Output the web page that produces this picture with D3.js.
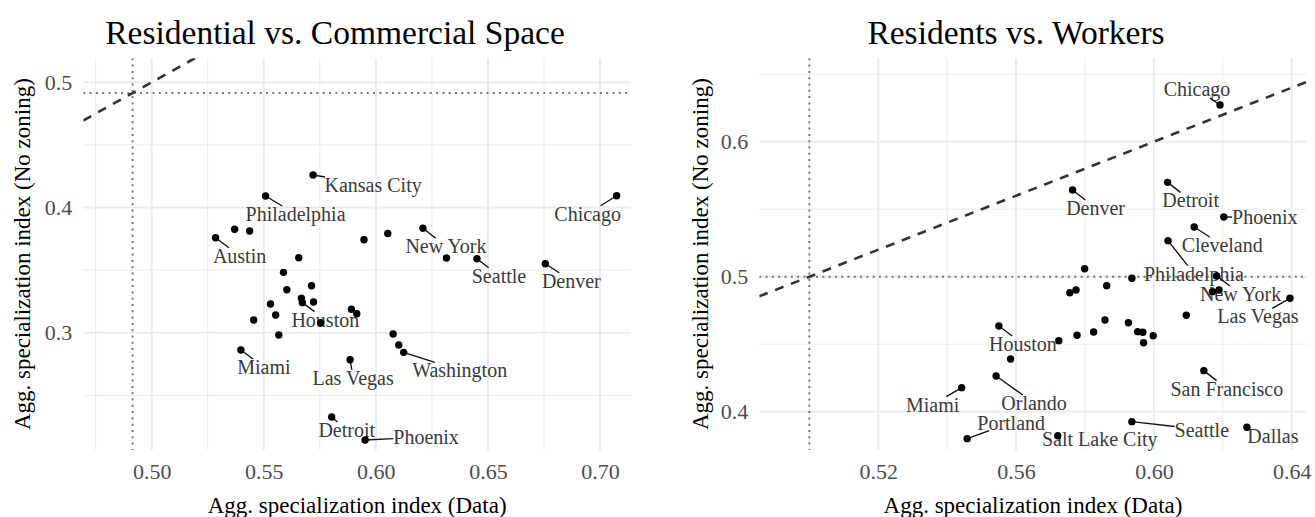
<!DOCTYPE html>
<html>
<head>
<meta charset="utf-8">
<script src="https://cdn.jsdelivr.net/npm/d3@7"></script>
<style>
  html, body { margin: 0; padding: 0; background: #ffffff; }
  svg { display: block; }
  text { font-family: "Liberation Serif", "DejaVu Serif", serif; }
</style>
</head>
<body>
<svg id="chart" width="1315" height="517"></svg>
<script>
// ---------------- DATA ----------------
// Left panel: Residential vs. Commercial Space
const leftCities = ["Kansas City","Philadelphia","","","Austin","","","","","","","","Houston","","","","","","","","","Miami","Las Vegas","Detroit","Phoenix","Chicago","New York","","Seattle","Denver","","","Washington"];
const leftX = [0.5720,0.5508,0.5370,0.5437,0.5285,0.5947,0.6053,0.5656,0.5588,0.5713,0.5603,0.5668,0.5672,0.5722,0.5530,0.5553,0.5455,0.5754,0.5891,0.5915,0.5567,0.5398,0.5885,0.5803,0.5952,0.7074,0.6210,0.6315,0.6451,0.6756,0.6077,0.6102,0.6124];
const leftY = [0.4260,0.4092,0.3826,0.3812,0.3759,0.3743,0.3792,0.3599,0.3482,0.3375,0.3343,0.3275,0.3240,0.3245,0.3229,0.3141,0.3101,0.3080,0.3187,0.3152,0.2982,0.2862,0.2784,0.2327,0.2143,0.4094,0.3834,0.3597,0.3591,0.3551,0.2990,0.2902,0.2843];
const leftBaseline = 0.4915;
const leftXTicks = [0.50,0.55,0.60,0.65,0.70];
const leftXMinor = [0.475,0.525,0.575,0.625,0.675];
const leftYTicks = [0.3,0.4,0.5];
const leftYMinor = [0.25,0.35,0.45];

// Right panel: Residents vs. Workers
const rightCities = ["Houston","","Orlando","Miami","Portland","Chicago","Denver","Detroit","Phoenix","Cleveland","Philadelphia","New York","","","","","","","","Las Vegas","","","","","","","","","","","San Francisco","Seattle","Salt Lake City","Dallas"];
const rightX = [0.5550,0.5584,0.5542,0.5442,0.5458,0.6192,0.5764,0.6040,0.6203,0.6117,0.6041,0.6182,0.5799,0.5936,0.5863,0.5756,0.5774,0.6170,0.6189,0.6395,0.6094,0.5858,0.5926,0.5953,0.5968,0.5998,0.5970,0.5825,0.5777,0.5724,0.6145,0.5936,0.5721,0.6270];
const rightY = [0.4635,0.4390,0.4264,0.4178,0.3800,0.6272,0.5642,0.5699,0.5442,0.5368,0.5267,0.5005,0.5059,0.4988,0.4933,0.4881,0.4901,0.4889,0.4901,0.4840,0.4714,0.4679,0.4659,0.4593,0.4588,0.4563,0.4511,0.4590,0.4566,0.4526,0.4304,0.3926,0.3822,0.3884];
const rightBaseline = 0.5;
const rightXTicks = [0.52,0.56,0.60,0.64];
const rightXMinor = [0.50,0.54,0.58,0.62];
const rightYTicks = [0.4,0.5,0.6];
const rightYMinor = [0.45,0.55,0.65];

const panelTitles = ["Residential vs. Commercial Space", "Residents vs. Workers"];
const xAxisTitle = "Agg. specialization index (Data)";
const yAxisTitle = "Agg. specialization index (No zoning)";

// ---------------- LAYOUT (label placement, px offsets of label centre from point) ----------------
const leftLabelOffset = {
  "Kansas City":[60,10], "Philadelphia":[30,18], "Austin":[24,18], "Houston":[23,17],
  "Miami":[23,17], "Las Vegas":[3,18], "Detroit":[15,13], "Phoenix":[61,-3],
  "Chicago":[-29,18], "New York":[23,18], "Seattle":[22,17], "Denver":[26,17], "Washington":[56,18]
};
const rightLabelOffset = {
  "Chicago":[-23,-16], "Denver":[23,18], "Detroit":[23,18], "Phoenix":[41,0],
  "Cleveland":[28,18], "Philadelphia":[26,33], "New York":[24,18], "Las Vegas":[-32,18],
  "San Francisco":[23,18], "Seattle":[70,8], "Salt Lake City":[42,3], "Dallas":[26,9],
  "Houston":[24,18], "Orlando":[38,27], "Miami":[-29,17], "Portland":[44,-16]
};

const panels = [
  { title: panelTitles[0], cities: leftCities, xs: leftX, ys: leftY, base: leftBaseline,
    xDomain: [0.4695, 0.7138], yDomain: [0.2063, 0.5192], xRange: [83.3, 631], yRange: [450, 58.3],
    xTicks: leftXTicks, xMinor: leftXMinor, yTicks: leftYTicks, yMinor: leftYMinor,
    xFmt: d3.format(".2f"), yFmt: d3.format(".1f"), offsets: leftLabelOffset, yTitleX: 22, titleX: 335 },
  { title: panelTitles[1], cities: rightCities, xs: rightX, ys: rightY, base: rightBaseline,
    xDomain: [0.48546, 0.64436], yDomain: [0.3716, 0.6618], xRange: [759.3, 1306.7], yRange: [450, 58.3],
    xTicks: rightXTicks, xMinor: rightXMinor, yTicks: rightYTicks, yMinor: rightYMinor,
    xFmt: d3.format(".2f"), yFmt: d3.format(".1f"), offsets: rightLabelOffset, yTitleX: 700, titleX: 1016 }
];

const svg = d3.select("#chart");
svg.append("rect").attr("width", 1315).attr("height", 517).attr("fill", "#ffffff");

panels.forEach((p, pi) => {
  const x = d3.scaleLinear().domain(p.xDomain).range(p.xRange);
  const y = d3.scaleLinear().domain(p.yDomain).range(p.yRange);
  const [x0, x1] = p.xRange;
  const [y1, y0] = p.yRange; // y0 top, y1 bottom
  const g = svg.append("g");
  const clipId = "clip" + pi;
  svg.append("clipPath").attr("id", clipId).append("rect")
    .attr("x", x0).attr("y", y0).attr("width", x1 - x0).attr("height", y1 - y0);

  // minor grid
  g.selectAll(".gxm").data(p.xMinor).enter().append("line")
    .attr("x1", d => x(d)).attr("x2", d => x(d)).attr("y1", y0).attr("y2", y1)
    .attr("stroke", "#ebebeb").attr("stroke-width", 1);
  g.selectAll(".gym").data(p.yMinor).enter().append("line")
    .attr("y1", d => y(d)).attr("y2", d => y(d)).attr("x1", x0).attr("x2", x1)
    .attr("stroke", "#ebebeb").attr("stroke-width", 1);
  // major grid
  g.selectAll(".gx").data(p.xTicks).enter().append("line")
    .attr("x1", d => x(d)).attr("x2", d => x(d)).attr("y1", y0).attr("y2", y1)
    .attr("stroke", "#ebebeb").attr("stroke-width", 2);
  g.selectAll(".gy").data(p.yTicks).enter().append("line")
    .attr("y1", d => y(d)).attr("y2", d => y(d)).attr("x1", x0).attr("x2", x1)
    .attr("stroke", "#ebebeb").attr("stroke-width", 2);

  // axes
  const xAxis = d3.axisBottom(x).tickValues(p.xTicks).tickFormat(p.xFmt).tickSize(0).tickPadding(13);
  const gx = g.append("g").attr("transform", `translate(0,${y1})`).call(xAxis);
  gx.select(".domain").remove();
  gx.selectAll("text").attr("font-family", "Liberation Serif").attr("font-size", 22).attr("fill", "#4d4d4d");

  const yAxis = d3.axisLeft(y).tickValues(p.yTicks).tickFormat(p.yFmt).tickSize(0).tickPadding(11);
  const gy = g.append("g").attr("transform", `translate(${x0},0)`).call(yAxis);
  gy.select(".domain").remove();
  gy.selectAll("text").attr("font-family", "Liberation Serif").attr("font-size", 22).attr("fill", "#4d4d4d");

  // reference lines
  const ref = g.append("g").attr("clip-path", `url(#${clipId})`);
  ref.append("line").attr("x1", x(p.base)).attr("x2", x(p.base)).attr("y1", y0).attr("y2", y1)
    .attr("stroke", "#777").attr("stroke-width", 2).attr("stroke-dasharray", "2,4.3");
  ref.append("line").attr("y1", y(p.base)).attr("y2", y(p.base)).attr("x1", x0).attr("x2", x1)
    .attr("stroke", "#777").attr("stroke-width", 2).attr("stroke-dasharray", "2,4.3");
  const d0 = p.xDomain[0], d1 = p.xDomain[1];
  ref.append("line").attr("x1", x(d0)).attr("y1", y(d0)).attr("x2", x(d1)).attr("y2", y(d1))
    .attr("stroke", "#333").attr("stroke-width", 2.6).attr("stroke-dasharray", "9,8");

  // points
  const pts = p.xs.map((v, i) => ({ x: v, y: p.ys[i], city: p.cities[i] }));
  const labG = g.append("g");
  const segG = g.append("g");
  g.append("g").selectAll("circle").data(pts).enter().append("circle")
    .attr("cx", d => x(d.x)).attr("cy", d => y(d.y)).attr("r", 3.7).attr("fill", "#000");

  // labels with leader segments pointing at the label centre, clipped to the label box
  pts.filter(d => d.city && p.offsets[d.city]).forEach(d => {
    const px = x(d.x), py = y(d.y);
    const [dx, dy] = p.offsets[d.city];
    const t = labG.append("text").attr("x", px + dx).attr("y", py + dy)
      .attr("text-anchor", "middle").attr("dominant-baseline", "central")
      .attr("font-size", 20).attr("fill", "#3a3a3a").text(d.city);
    const bb = t.node().getBBox();
    const bx0 = bb.x, bx1 = bb.x + bb.width, by0 = bb.y + 3, by1 = bb.y + bb.height - 3;
    if (px >= bx0 && px <= bx1 && py >= by0 && py <= by1) return;
    const cxl = px + dx, cyl = py + dy;
    // find the largest t in [0,1] along point->centre still outside the box
    let tEnd = 1;
    const cand = [];
    if (dx !== 0) { cand.push((bx0 - px) / dx); cand.push((bx1 - px) / dx); }
    if (dy !== 0) { cand.push((by0 - py) / dy); cand.push((by1 - py) / dy); }
    let best = 1;
    cand.forEach(tt => {
      if (tt > 0 && tt < best) {
        const ix = px + dx * tt, iy = py + dy * tt;
        if (ix >= bx0 - 0.01 && ix <= bx1 + 0.01 && iy >= by0 - 0.01 && iy <= by1 + 0.01) best = tt;
      }
    });
    tEnd = best;
    const ex = px + dx * tEnd, ey = py + dy * tEnd;
    const len = Math.hypot(ex - px, ey - py);
    if (len > 6) {
      segG.append("line").attr("x1", px).attr("y1", py).attr("x2", ex).attr("y2", ey)
        .attr("stroke", "#111").attr("stroke-width", 1.4);
    }
  });

  // titles
  const cx = (x0 + x1) / 2;
  svg.append("text").attr("x", p.titleX).attr("y", 44).attr("text-anchor", "middle")
    .attr("font-size", 33.5).attr("fill", "#000").text(p.title);
  svg.append("text").attr("x", cx).attr("y", 513).attr("text-anchor", "middle")
    .attr("font-size", 23).attr("fill", "#000").text(xAxisTitle);
  svg.append("text").attr("transform", `translate(${p.yTitleX},${(y0 + y1) / 2}) rotate(-90)`)
    .attr("text-anchor", "middle").attr("dominant-baseline", "central")
    .attr("font-size", 23).attr("fill", "#000").text(yAxisTitle);
});
</script>
</body>
</html>
